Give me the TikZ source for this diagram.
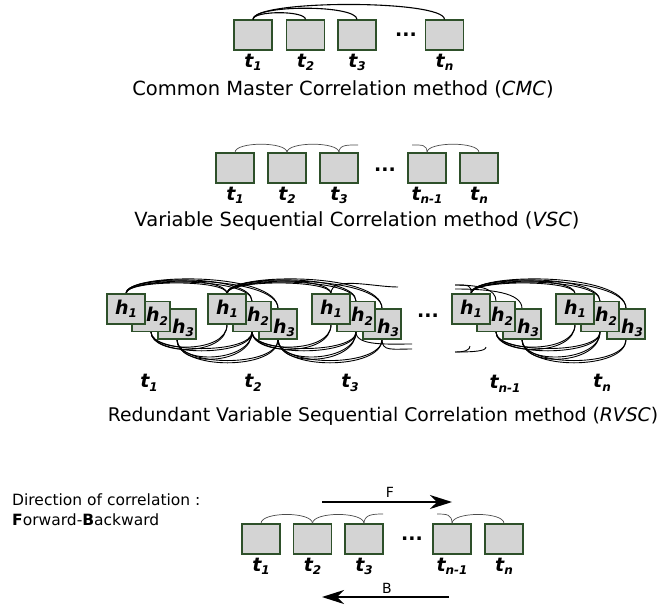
\documentclass[tikz,border=0pt]{standalone}
\usepackage{fontspec}
\setmainfont{DejaVu Sans}
\usetikzlibrary{positioning,arrows.meta,backgrounds}

\definecolor{boxline}{RGB}{46,80,42}
\definecolor{boxfill}{RGB}{212,212,212}

\tikzset{
  tbox/.style={draw=boxline,fill=boxfill,line width=1.1pt,minimum width=38pt,minimum height=30pt,inner sep=0pt},
  tlab/.style={inner sep=0pt,font=\fontsize{19}{19}\selectfont\bfseries\itshape},
  hlab/.style={inner sep=0pt,font=\fontsize{19}{19}\selectfont\bfseries\itshape},
  dots/.style={inner sep=0pt,font=\fontsize{19}{19}\selectfont\bfseries},
  title/.style={inner sep=0pt,font=\fontsize{19.5}{20}\selectfont},
  cmclink/.style={draw=black,line width=1.1pt},
  seqlink/.style={draw=black!70,line width=0.7pt},
  rlink/.style={draw=black,line width=0.9pt},
  dirarrow/.style={line width=1.3pt,-{Stealth[length=22pt,width=14pt,inset=7pt]}},
}
% letter with lowered index
\newcommand{\subl}[2]{#1\raisebox{-3.5pt}{\fontsize{12}{12}\selectfont #2}}

\begin{document}
\begin{tikzpicture}[x=1pt,y=-1pt]
        \useasboundingbox (0,0) rectangle (666,608);

        % common master correlation
        \node[tbox] (c1) at (253,35) {};
        \node[tbox] (c2) at (305.5,35) {};
        \node[tbox] (c3) at (357,35) {};
        \node[dots] (cd) at (406,35) {...};
        \node[tbox] (cn) at (444.5,35) {};
        \foreach \n/\i in {1/1,2/2,3/3,n/n}
                \node[tlab,below=3pt of c\n] (c\n t) {\subl{t}{\i}};
        \draw[cmclink] (c1.north) .. controls +(0,-9) and +(0,-9) .. (c2.north);
        \draw[cmclink] (c1.north) .. controls +(0,-15) and +(0,-15) .. (c3.north);
        \draw[cmclink] (c1.north) .. controls +(0,-20) and +(0,-20) .. (cn.north);
        \node[title] (cmc) at (343,89) {Common Master Correlation method (\textit{CMC})};

        % variable sequential correlation
        \node[tbox] (v1) at (235,168) {};
        \node[tbox] (v2) at (287,168) {};
        \node[tbox] (v3) at (339,168) {};
        \node[dots] (vd) at (385,170) {...};
        \node[tbox] (vm) at (427,168) {};
        \node[tbox] (vn) at (479,168) {};
        \foreach \n/\i in {1/1,2/2,3/3,m/n-1,n/n}
                \node[tlab,below=3pt of v\n] (v\n t) {\subl{t}{\i}};
        \coordinate (v3r) at (358,145);
        \coordinate (vml) at (412,145);
        \draw[seqlink] (v1.north) .. controls +(0,-11) and +(0,-11) .. (v2.north);
        \draw[seqlink] (v2.north) .. controls +(0,-11) and +(0,-11) .. (v3.north);
        \draw[seqlink] (v3.north) .. controls +(0,-8) and +(-10,0) .. (v3r);
        \draw[seqlink] (vml) .. controls +(10,0) and +(0,-8) .. (vm.north);
        \draw[seqlink] (vm.north) .. controls +(0,-11) and +(0,-11) .. (vn.north);
        \node[title] (vsc) at (357,221) {Variable Sequential Correlation method (\textit{VSC})};

        % redundant variable sequential correlation (h3 first, h1 on top)
        \foreach \g/\x in {1/126,2/227,3/331,m/471,n/575} {
                \node[tbox] (g\g-h3) at (\x+51,324) {};
                \node[tbox] (g\g-h2) at (\x+25,316.5) {};
                \node[tbox] (g\g-h1) at (\x,309) {};
                \node[hlab] (g\g-l1) at (g\g-h1) {\subl{h}{1}};
                \node[hlab] (g\g-l2) at ([xshift=6pt]g\g-h2) {\subl{h}{2}};
                \node[hlab] (g\g-l3) at ([xshift=6pt,yshift=-4pt]g\g-h3) {\subl{h}{3}};
        }
        \node[dots] (rd) at (428,316) {...};
        \node[tlab] (g1t) at (149,383) {\subl{t}{1}};
        \node[tlab] (g2t) at (253,383) {\subl{t}{2}};
        \node[tlab] (g3t) at (350,383) {\subl{t}{3}};
        \node[tlab] (gmt) at (505,384) {\subl{t}{n-1}};
        \node[tlab] (gnt) at (602,383) {\subl{t}{n}};

        \coordinate (g3r1) at (398,287);
        \coordinate (g3r2) at (412,344);
        \coordinate (g3r3) at (412,349);
        \coordinate (gml1) at (455,285);
        \coordinate (gml2) at (455,289);
        \coordinate (gml3) at (455,352);
        \coordinate (gml4) at (470,346);
        \coordinate (gml5) at (486,347);
        \begin{scope}[on background layer]
                \foreach \a/\b in {1/2,2/3,m/n} {
                        \foreach \d in {0,3} {
                                % above
                                \draw[rlink] (g\a-h1.north) .. controls +(0,-14-\d) and +(0,-14-\d) .. (g\b-h1.north);
                                \draw[rlink] (g\a-h1.north) .. controls +(0,-16-\d) and +(0,-24-\d) .. (g\b-h2.north);
                                \draw[rlink] (g\a-h1.north) .. controls +(0,-18-\d) and +(0,-34-\d) .. (g\b-h3.north);
                                % below
                                \draw[rlink] (g\a-h2.south) .. controls +(0,20+\d) and +(0,30+\d) .. (g\b-h1.south);
                                \draw[rlink] (g\a-h2.south) .. controls +(0,22+\d) and +(0,22+\d) .. (g\b-h2.south);
                                \draw[rlink] (g\a-h3.south) .. controls +(0,26+\d) and +(0,30+\d) .. (g\b-h2.south);
                                \draw[rlink] (g\a-h3.south) .. controls +(0,28+\d) and +(0,28+\d) .. (g\b-h3.south);
                        }
                }
                % towards and from the dots
                \draw[rlink] (g3-h1.north) .. controls +(0,-18) and +(-25,0) .. (g3r1);
                \draw[rlink] (g3-h2.south) .. controls +(0,14) and +(-25,0) .. (g3r2);
                \draw[rlink] (g3-h3.south) .. controls +(0,12) and +(-20,0) .. (g3r3);
                \draw[rlink] (gml1) .. controls +(15,0) and +(0,-8) .. (gm-h1.north);
                \draw[rlink] (gml1) .. controls +(25,0) and +(0,-12) .. (gm-h2.north);
                \draw[rlink] (gml2) .. controls +(35,0) and +(0,-16) .. (gm-h3.north);
                \draw[rlink] (gml3) .. controls +(10,0) and +(0,4) .. (gml4);
                \draw[rlink] (gml3) .. controls +(20,0) and +(0,4) .. (gml5);
        \end{scope}
        \node[title,font=\fontsize{18.8}{20}\selectfont] (rvsc) at (383,416) {Redundant Variable Sequential Correlation method (\textit{RVSC})};

        % direction of correlation
        \node[inner sep=0pt,anchor=north west,align=left,font=\fontsize{15.5}{20}\selectfont] (dir) at (12,494)
                {Direction of correlation :\\\textbf{F}orward-\textbf{B}ackward};
        \node[tbox] (b1) at (261,539) {};
        \node[tbox] (b2) at (312.5,539) {};
        \node[tbox] (b3) at (364,539) {};
        \node[dots] (bd) at (412,539) {...};
        \node[tbox] (bm) at (452,539) {};
        \node[tbox] (bn) at (504,539) {};
        \foreach \n/\i in {1/1,2/2,3/3,m/n-1,n/n}
                \node[tlab,below=3pt of b\n] (b\n t) {\subl{t}{\i}};
        \coordinate (b3r) at (383,514);
        \coordinate (bml) at (437,514);
        \draw[seqlink] (b1.north) .. controls +(0,-12) and +(0,-12) .. (b2.north);
        \draw[seqlink] (b2.north) .. controls +(0,-12) and +(0,-12) .. (b3.north);
        \draw[seqlink] (b3.north) .. controls +(0,-9) and +(-10,0) .. (b3r);
        \draw[seqlink] (bml) .. controls +(10,0) and +(0,-9) .. (bm.north);
        \draw[seqlink] (bm.north) .. controls +(0,-12) and +(0,-12) .. (bn.north);

        \coordinate (fs) at (322,502);
        \coordinate (fe) at (452,502);
        \coordinate (bs) at (449,597);
        \coordinate (be) at (322,597);
        \draw[dirarrow] (fs) -- (fe);
        \draw[dirarrow] (bs) -- (be);
        \node[inner sep=0pt,font=\fontsize{14}{14}\selectfont] (flab) at (390,492) {F};
        \node[inner sep=0pt,font=\fontsize{14}{14}\selectfont] (blab) at (387,588) {B};
\end{tikzpicture}
\end{document}
